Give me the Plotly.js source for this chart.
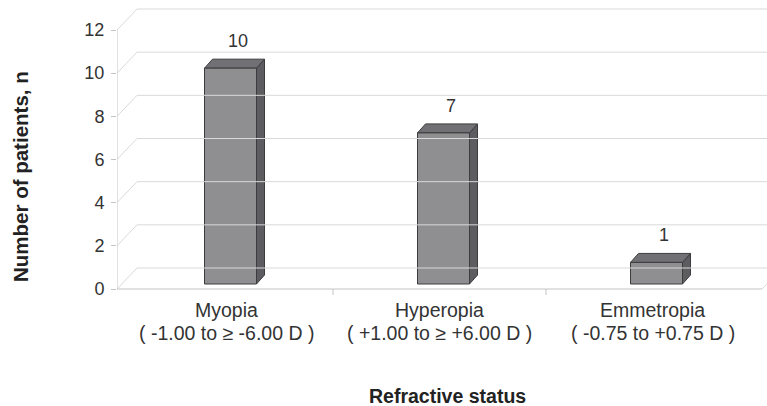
<!DOCTYPE html>
<html>
<head>
<meta charset="utf-8">
<script src="https://cdn.plot.ly/plotly-3.0.1.min.js"></script>
<style>html,body{margin:0;padding:0;background:#fff;}#chart{width:767px;height:406px;}</style>
</head>
<body>
<div id="chart"></div>
<script>
// ---- data ----
const categories = ['Myopia', 'Hyperopia', 'Emmetropia'];
const categoryRanges = ['( -1.00 to ≥ -6.00 D )', '( +1.00 to ≥ +6.00 D )', '( -0.75 to +0.75 D )'];
const patients = [10, 7, 1];
const yTicks = [0, 2, 4, 6, 8, 10, 12];
const yTitle = 'Number of patients, n';
const xTitle = 'Refractive status';

// ---- geometry (pixels -> data units) ----
const W = 767, H = 406, ML = 117, MR = 0, MT = 5, MB = 111;
const PX_X = 213;            // px per category
const PX_Y = 259 / 12;       // px per patient
const XR = [-(226.5 - ML) / PX_X, (W - MR - 226.5) / PX_X];
const YR = [-(295 - 289) / PX_Y, (289 - MT) / PX_Y];
const WDX = 20 / PX_X, WDY = 21 / PX_Y;   // wall depth
const BHW = 26 / PX_X;                    // bar half width
const BSX = 4 / PX_X, BSY = 5 / PX_Y;     // bar placement inside depth
const BDX = 8 / PX_X, BDY = 9 / PX_Y;     // bar depth
const yMax = yTicks[yTicks.length - 1];
const floorEnd = 2.5 + (-0.5 - XR[0]);
const PW = W - ML - MR, PH = H - MT - MB;

const font = "'Liberation Sans', Arial, sans-serif";
const gridCol = '#d9d9d9', axisCol = '#c4c4c4';

// ---- walls / gridlines as shapes ----
const shapes = [];
yTicks.forEach(t => {
  shapes.push({type: 'line', xref: 'x', yref: 'y', x0: XR[0] + WDX, y0: t + WDY, x1: XR[1], y1: t + WDY, line: {color: gridCol, width: 1}});
  shapes.push({type: 'line', xref: 'x', yref: 'y', x0: XR[0], y0: t, x1: XR[0] + WDX, y1: t + WDY, line: {color: gridCol, width: 1}});
});
shapes.push({type: 'line', xref: 'x', yref: 'y', x0: XR[0], y0: 0, x1: XR[0], y1: yMax, line: {color: axisCol, width: 1}});
shapes.push({type: 'line', xref: 'x', yref: 'y', x0: XR[0], y0: 0, x1: floorEnd, y1: 0, line: {color: axisCol, width: 1}});
shapes.push({type: 'line', xref: 'x', yref: 'y', x0: floorEnd, y0: 0, x1: floorEnd + WDX, y1: WDY, line: {color: gridCol, width: 1}});
categories.slice(1).forEach((c, i) => {
  shapes.push({type: 'line', xref: 'x', yref: 'y', x0: i + 0.5, y0: 0, x1: i + 0.5, y1: -6 / PX_Y, line: {color: axisCol, width: 1}});
});

// ---- 3D bars as polygons ----
const traces = [];
const edge = {color: '#3c3c3e', width: 1};
patients.forEach((v, i) => {
  const c = i + BSX, b = BSY, t = BSY + v;
  const L = c - BHW, R = c + BHW;
  traces.push({type: 'scatter', mode: 'lines', fill: 'toself', fillcolor: '#5d5d61', line: edge, hoverinfo: 'skip', showlegend: false,
    x: [R, R + BDX, R + BDX, R, R], y: [b, b + BDY, t + BDY, t, b]});
  traces.push({type: 'scatter', mode: 'lines', fill: 'toself', fillcolor: '#717175', line: edge, hoverinfo: 'skip', showlegend: false,
    x: [L, R, R + BDX, L + BDX, L], y: [t, t, t + BDY, t + BDY, t]});
  traces.push({type: 'scatter', mode: 'lines', fill: 'toself', fillcolor: '#8f8f92', line: edge, hoverinfo: 'skip', showlegend: false,
    x: [L, R, R, L, L], y: [b, b, t, t, b]});
});

// ---- annotations ----
const annotations = [];
patients.forEach((v, i) => {
  annotations.push({x: i + BSX + BDX / 2 + 3 / PX_X, y: BSY + v + BDY, xref: 'x', yref: 'y', text: String(v), showarrow: false,
    yanchor: 'middle', yshift: 18, font: {family: font, size: 18, color: '#333'}});
});
categories.forEach((c, i) => {
  annotations.push({x: i, y: 0, xref: 'x', yref: 'paper', text: c, showarrow: false, yanchor: 'middle', yshift: -15,
    font: {family: font, size: 19.5, color: '#333'}});
  annotations.push({x: i, y: 0, xref: 'x', yref: 'paper', text: categoryRanges[i], showarrow: false, yanchor: 'middle', yshift: -38,
    font: {family: font, size: 19.5, color: '#333'}});
});
annotations.push({x: (20 - ML) / PW, y: (295 - 177) / PH, xref: 'paper', yref: 'paper', text: '<b>' + yTitle + '</b>',
  textangle: -90, showarrow: false, xanchor: 'center', yanchor: 'middle', font: {family: font, size: 20.5, color: '#222'}});
annotations.push({x: (447 - ML) / PW, y: -(396 - 295) / PH, xref: 'paper', yref: 'paper', text: '<b>' + xTitle + '</b>',
  showarrow: false, xanchor: 'center', yanchor: 'middle', font: {family: font, size: 19.5, color: '#222'}});

const layout = {
  width: W, height: H,
  margin: {l: ML, r: MR, t: MT, b: MB, pad: 0},
  paper_bgcolor: '#fff', plot_bgcolor: '#fff',
  showlegend: false,
  xaxis: {range: XR, showgrid: false, zeroline: false, showline: false, showticklabels: false, ticks: '', fixedrange: true},
  yaxis: {range: YR, tickvals: yTicks, ticktext: yTicks.map(String), showgrid: false, zeroline: false, showline: false,
    ticks: 'outside', ticklen: 5, tickcolor: axisCol, ticklabelstandoff: 3,
    tickfont: {family: font, size: 18, color: '#333'}, fixedrange: true},
  shapes: shapes,
  annotations: annotations
};

Plotly.newPlot('chart', traces, layout, {staticPlot: true, displayModeBar: false});
</script>
</body>
</html>
